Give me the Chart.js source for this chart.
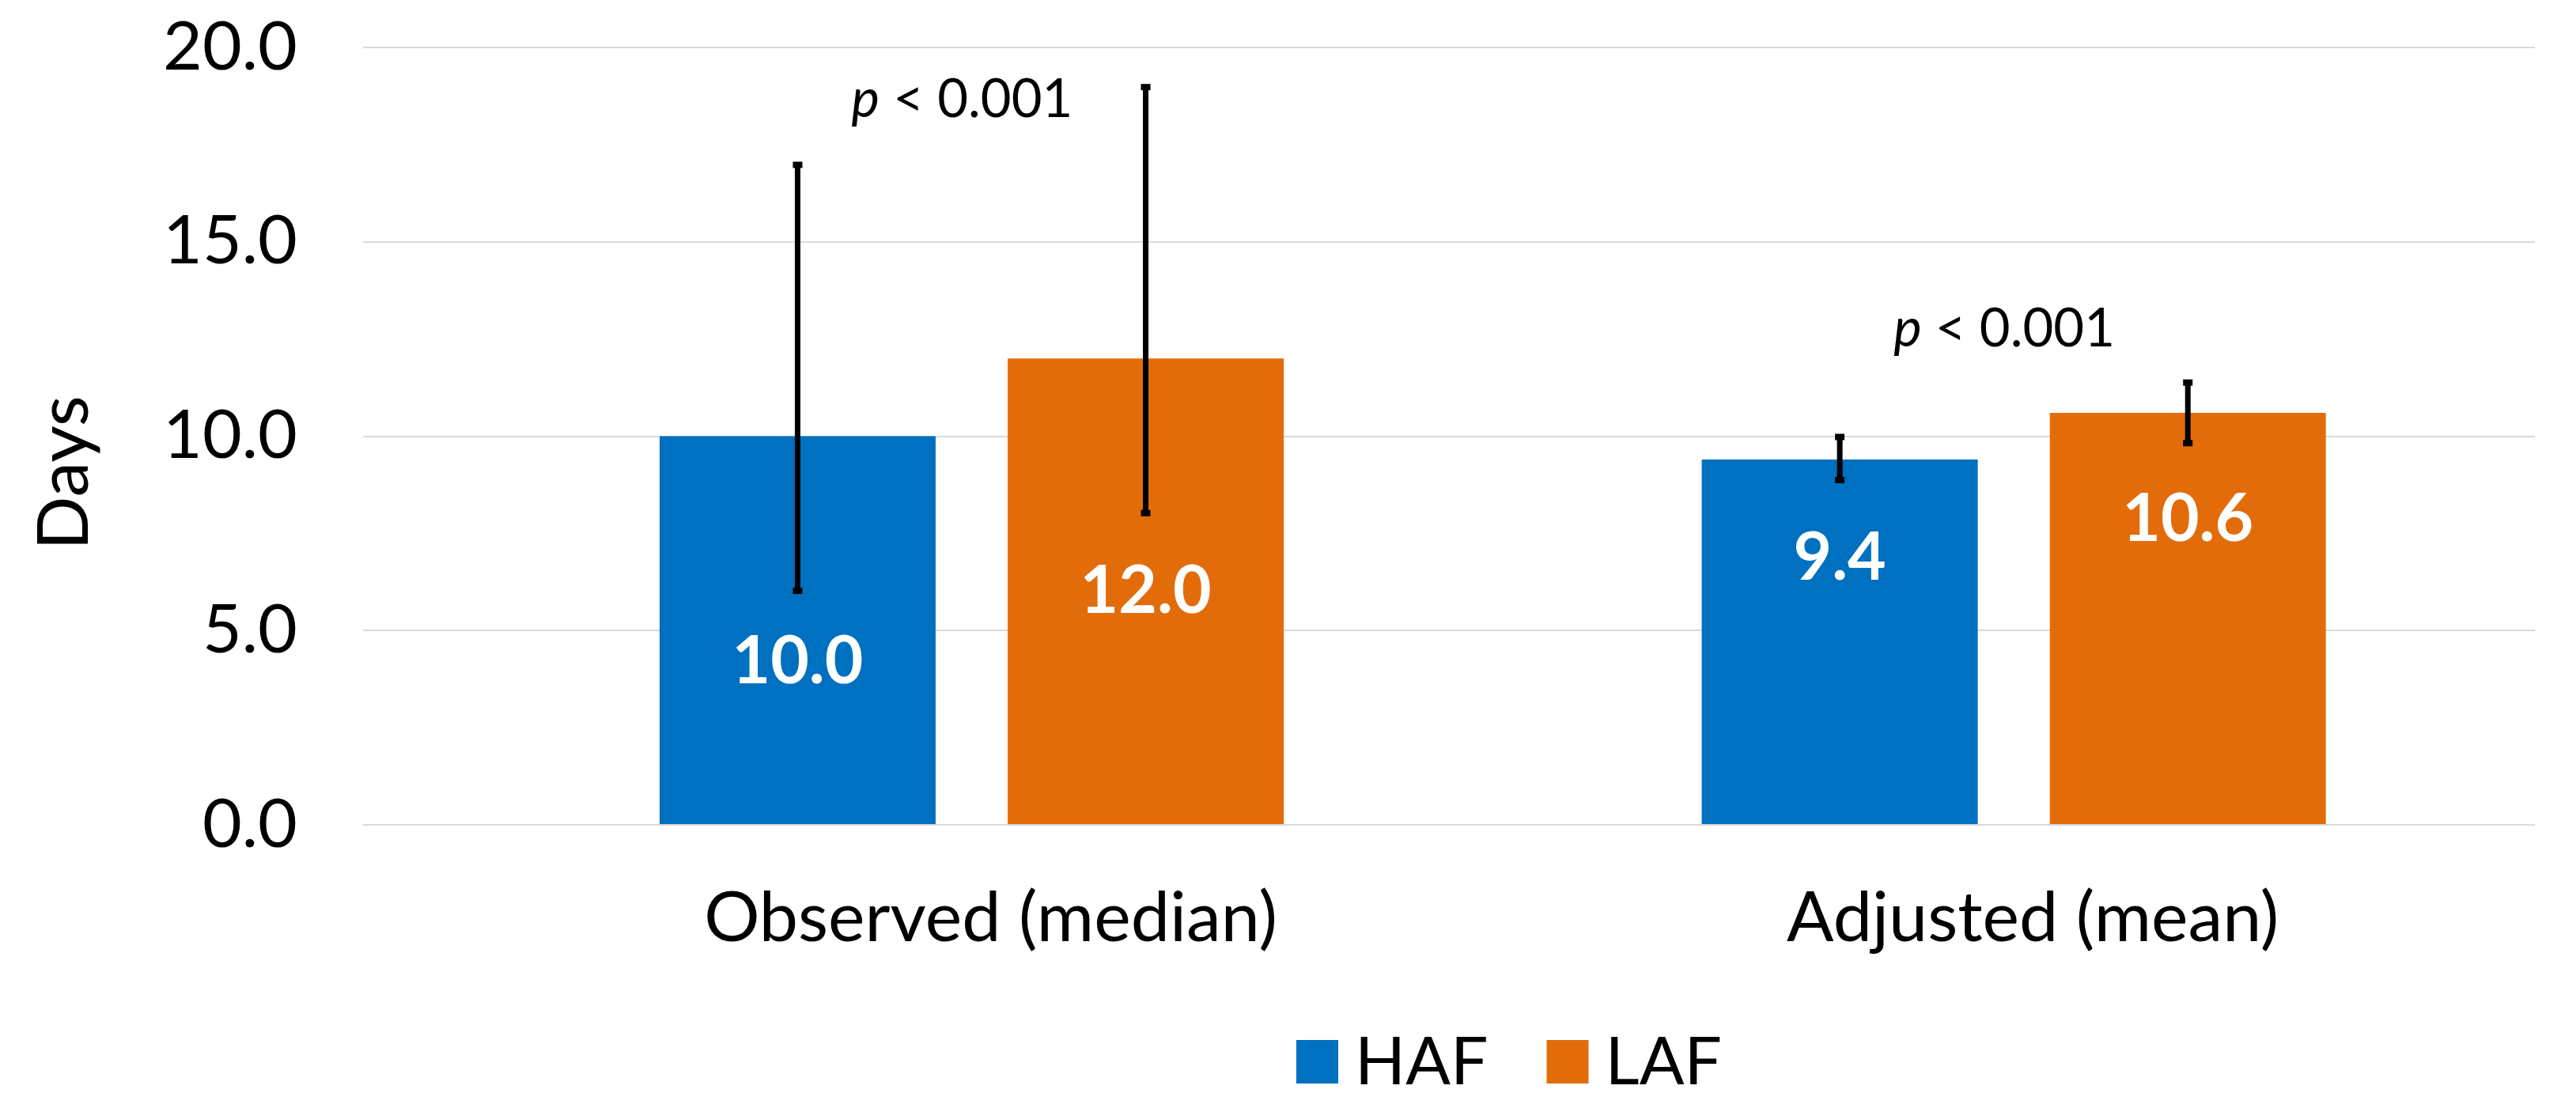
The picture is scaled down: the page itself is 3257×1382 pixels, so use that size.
<!DOCTYPE html>
<html>
<head>
<meta charset="utf-8">
<script src="https://cdn.jsdelivr.net/npm/chart.js@4/dist/chart.umd.min.js"></script>
<style>
  html, body { margin: 0; padding: 0; background: #fff; }
  canvas { display: block; }
</style>
</head>
<body>
<canvas id="chart" width="3257" height="1382" style="width:3257px;height:1382px"></canvas>
<script>
// data
const categories = ["Observed (median)", "Adjusted (mean)"];
const seriesNames = ["HAF", "LAF"];
const hafValues = [10.0, 9.4];
const lafValues = [12.0, 10.6];
const hafLow = [6.0, 8.85];
const hafHigh = [17.0, 10.0];
const lafLow = [8.0, 9.8];
const lafHigh = [19.0, 11.4];
const pTexts = ["0.001", "0.001"];
const yTicks = [0, 5, 10, 15, 20];

const blue = "#0070C0";
const orange = "#E36C0A";
const FONT = "Lato, Calibri, 'Open Sans', sans-serif";

// where the white value labels sit (in data units, like the original)
const labelAt = [[4.2, 6.0], [6.85, 7.85]];
const pAt = [18.2, 12.3];

const errors = [
  { low: hafLow, high: hafHigh },
  { low: lafLow, high: lafHigh },
];

const extras = {
  id: "extras",
  afterDatasetsDraw(chart) {
    const ctx = chart.ctx;
    const y = chart.scales.y;
    const x = chart.scales.x;
    ctx.save();
    // error bars
    chart.data.datasets.forEach((ds, d) => {
      const meta = chart.getDatasetMeta(d);
      meta.data.forEach((bar, i) => {
        const top = y.getPixelForValue(errors[d].high[i]);
        const bot = y.getPixelForValue(errors[d].low[i]);
        ctx.strokeStyle = "#000";
        ctx.lineWidth = 7;
        ctx.beginPath();
        ctx.moveTo(bar.x, top);
        ctx.lineTo(bar.x, bot);
        ctx.stroke();
        ctx.fillStyle = "#000";
        ctx.fillRect(bar.x - 6, top - 3, 12, 8);
        ctx.fillRect(bar.x - 6, bot - 5, 12, 8);
      });
    });
    // value labels
    ctx.fillStyle = "#fff";
    ctx.font = "bold 84px " + FONT;
    ctx.textAlign = "center";
    ctx.textBaseline = "middle";
    chart.data.datasets.forEach((ds, d) => {
      const meta = chart.getDatasetMeta(d);
      meta.data.forEach((bar, i) => {
        ctx.fillText(ds.data[i].y.toFixed(1), bar.x, y.getPixelForValue(labelAt[i][d]));
      });
    });
    // p values
    ctx.fillStyle = "#000";
    ctx.textBaseline = "alphabetic";
    ctx.textAlign = "left";
    pTexts.forEach((t, i) => {
      const italic = "italic 67px " + FONT;
      const normal = "67px " + FONT;
      ctx.font = italic;
      const w1 = ctx.measureText("p").width;
      ctx.font = normal;
      const rest = " < " + t;
      const w2 = ctx.measureText(rest).width;
      const cx = x.getPixelForValue(i) - 12;
      const left = cx - (w1 + w2) / 2;
      const base = y.getPixelForValue(pAt[i]);
      ctx.font = italic;
      ctx.fillText("p", left, base);
      ctx.font = normal;
      ctx.fillText(rest, left + w1, base);
    });
    // y title
    ctx.save();
    ctx.translate(82, 598);
    ctx.rotate(-Math.PI / 2);
    ctx.textAlign = "center";
    ctx.textBaseline = "middle";
    ctx.font = "90px " + FONT;
    ctx.fillText("Days", 0, 0);
    ctx.restore();
    // legend
    ctx.font = "84px " + FONT;
    ctx.textBaseline = "middle";
    const box = 53, gap = 21, spacing = 74;
    const widths = chart.data.datasets.map(ds => ctx.measureText(ds.label).width);
    let total = 0;
    widths.forEach((w, i) => { total += box + gap + w + (i ? spacing : 0); });
    let lx = 1908 - total / 2;
    const ly = 1342;
    chart.data.datasets.forEach((ds, i) => {
      ctx.fillStyle = ds.backgroundColor;
      ctx.fillRect(lx, ly - 27, box, 55);
      ctx.fillStyle = "#000";
      ctx.fillText(ds.label, lx + box + gap, ly + 2);
      lx += box + gap + widths[i] + spacing;
    });
    ctx.restore();
  }
};

new Chart(document.getElementById("chart"), {
  type: "bar",
  data: {
    datasets: [
      { label: seriesNames[0], data: hafValues.map((v, i) => ({ x: i, y: v })), backgroundColor: blue },
      { label: seriesNames[1], data: lafValues.map((v, i) => ({ x: i, y: v })), backgroundColor: orange },
    ],
  },
  options: {
    responsive: false,
    animation: false,
    devicePixelRatio: 1,
    categoryPercentage: 0.668,
    barPercentage: 0.793,
    layout: { padding: { top: 60, right: 52, bottom: 0, left: 0 } },
    plugins: { legend: { display: false }, tooltip: { enabled: false } },
    scales: {
      x: {
        type: "linear",
        offset: false,
        min: -0.584,
        max: 1.5,
        afterBuildTicks: (s) => { s.ticks = categories.map((c, i) => ({ value: i })); },
        afterFit: (s) => { s.height = 339; s.paddingLeft = 0; s.paddingRight = 0; },
        grid: { display: false },
        border: { display: false },
        ticks: {
          padding: 58,
          labelOffset: 24,
          color: "#000",
          font: { family: FONT, size: 88 },
          callback: (v) => categories[v] ?? "",
        },
      },
      y: {
        min: 0,
        max: 20,
        afterBuildTicks: (s) => { s.ticks = yTicks.map(v => ({ value: v })); },
        afterFit: (s) => { s.width = 459; s.paddingTop = 0; s.paddingBottom = 0; },
        grid: { color: "#d9d9d9", lineWidth: 2, drawTicks: false },
        border: { display: false },
        ticks: {
          padding: 83,
          color: "#000",
          font: { family: FONT, size: 86 },
          callback: (v) => v.toFixed(1),
        },
      },
    },
  },
  plugins: [extras],
});
</script>
</body>
</html>
